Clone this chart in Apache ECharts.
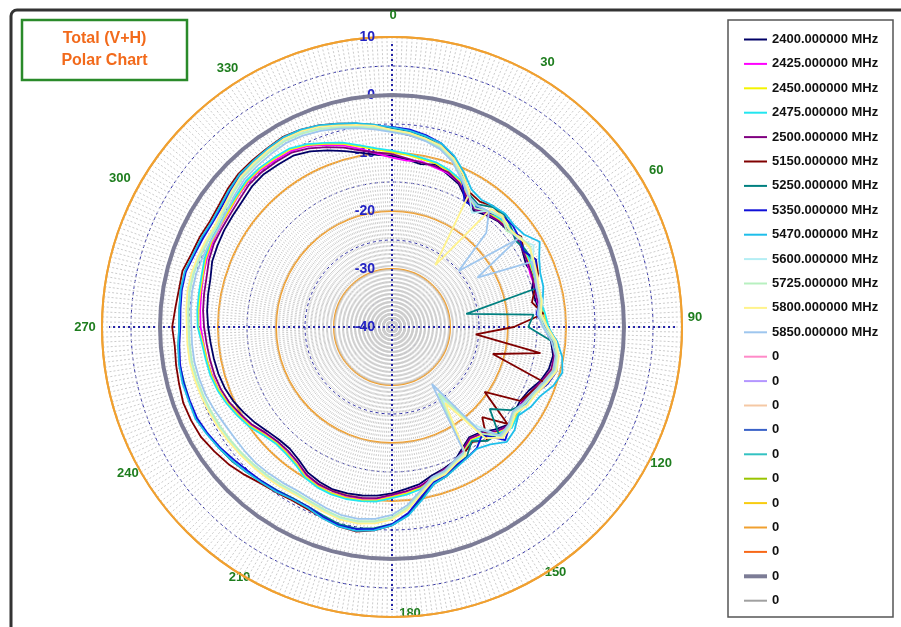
<!DOCTYPE html>
<html><head><meta charset="utf-8">
<script src="https://cdn.jsdelivr.net/npm/echarts@6/dist/echarts.min.js"></script>
<style>html,body{margin:0;padding:0;background:#fff}#c{width:901px;height:627px}</style>
</head><body><div id="c"></div>
<script>
// sampling angles (degrees, clockwise from top)
const angles = [0,5,10,15,20,25,30,35,40,45,50,55,60,65,70,75,80,85,90,95,100,105,110,115,120,125,130,135,140,145,150,155,160,165,170,175,
180,185,190,195,200,205,210,215,220,225,230,235,240,245,250,255,260,265,270,275,280,285,290,295,300,305,310,315,320,325,330,335,340,345,350,355];
const angleTicks = [0,30,60,90,120,150,180,210,240,270,300,330];
const radiusTicks = [-40,-30,-20,-10,0,10];

const s2400 = [-10.5,-11,-11.5,-11,-12,-12.8,-14.5,-15.5,-14.8,-14.2,
-14,-13.2,-14,-14.5,-14,-15,-14.8,-14.3,-13.8,-12.5,
-11.8,-12,-12.8,-14,-14.5,-14.3,-13.8,-15,-16.3,-16.8,
-15.8,-14.5,-14,-13.5,-12.5,-12,-11.3,-10.8,-10.5,-10.3,
-10.2,-10.5,-11,-12,-12.6,-12.5,-12,-11.2,-10.5,-9.8,
-9.3,-9,-8.8,-8.6,-8.3,-8,-7.8,-7.6,-7,-6.8,
-6.6,-6.5,-6.3,-5.8,-5.6,-5.8,-5.9,-6.6,-7.6,-8.6,
-9.5,-10.2];
const s2425 = [-10.8,-11.2,-11,-11.5,-11.8,-12.5,-14,-15,-14.6,-14,
-13.6,-13.8,-13.5,-14.2,-14.5,-14.3,-14.6,-14,-13.2,-12,
-11.5,-11.2,-12.6,-13.5,-14.2,-13.8,-13.3,-14.6,-16,-16.5,
-15.4,-14.2,-13.6,-13,-12.2,-11.5,-10.8,-10.2,-9.8,-9.6,
-9.5,-9.8,-10.4,-11.2,-11.8,-12,-11.4,-10.4,-9.6,-8.8,
-8.2,-7.9,-7.6,-7.4,-7,-6.8,-6.6,-6.3,-6,-5.8,
-5.7,-5.6,-5.2,-4.8,-4.7,-4.9,-5,-5.6,-6.6,-7.6,
-8.8,-10];
const s2450 = [-9.8,-10.2,-10.6,-10.8,-11.4,-12.2,-13.8,-14.8,-14.2,-13.8,
-13.5,-13.4,-13.6,-13.8,-14,-14.2,-14.2,-13.7,-13.2,-11.8,
-11.2,-11.3,-12.3,-13.2,-13.8,-13.7,-13.2,-14.2,-15.6,-16.2,
-15.2,-13.8,-13.5,-12.8,-11.8,-11.2,-10.7,-10,-9.7,-9.5,
-9.5,-9.7,-10.2,-11.2,-11.7,-11.8,-11.2,-10.2,-9.5,-8.8,
-8.2,-7.8,-7.6,-7.3,-6.6,-6.5,-6.4,-6.2,-5.8,-5.6,
-5.6,-5.5,-5.1,-4.6,-4.5,-4.6,-4.7,-5.4,-6.4,-7.3,
-8.4,-9.3];
const s2475 = [-9.6,-10,-10.4,-10.6,-11.2,-12,-13.5,-14.6,-14,-13.6,
-13.4,-13.2,-13.5,-13.6,-13.9,-14,-14,-13.5,-13,-11.6,
-11,-11.1,-12.1,-13,-13.6,-13.5,-13,-14,-15.4,-16,
-15,-13.6,-13.2,-12.6,-11.6,-11,-10.5,-9.8,-9.5,-9.3,
-9.3,-9.5,-10,-11,-11.5,-11.6,-11,-10,-9.3,-8.6,
-8,-7.6,-7.4,-7.1,-6.5,-6.3,-6.2,-6,-5.6,-5.4,
-5.4,-5.2,-4.9,-4.4,-4.3,-4.4,-4.5,-5.2,-6.2,-7.1,
-8.2,-9.1];
const s2500 = [-10.2,-10.8,-11.2,-11.3,-11.6,-12.6,-14.2,-15.2,-14.5,-14.1,
-13.8,-13.6,-13.9,-14.1,-14.3,-14.6,-14.5,-14.1,-13.6,-12.2,
-11.6,-11.6,-12.6,-13.6,-14.1,-14.1,-13.6,-14.6,-16,-16.6,
-15.6,-14.1,-13.9,-13.1,-12.1,-11.6,-11.1,-10.4,-10.1,-9.9,
-9.9,-10.1,-10.6,-11.6,-12.1,-12.1,-11.6,-10.6,-9.9,-9.1,
-8.6,-8.3,-8.1,-7.9,-7.6,-7.3,-7.1,-6.9,-6.4,-6.1,
-6.1,-6,-5.7,-5.2,-5.1,-5.2,-5.3,-6,-7,-8,
-9.1,-9.8];
const s5150 = [-6.2,-6.8,-7.2,-7.8,-9.5,-11.2,-13.2,-13.6,-12.8,-13.2,
-14,-12.8,-13.8,-12.6,-13.2,-14.5,-15.5,-13.8,-19,-25.5,
-14,-22,-12,-13.5,-14.5,-20.5,-14,-18,-14.5,-15.8,
-15,-14.4,-13.5,-12.8,-10.2,-7.5,-5.8,-4.8,-4.2,-4.4,
-5,-5.4,-5.5,-5.2,-4.8,-4,-3.2,-2.6,-2,-1.8,
-1.7,-2,-2.2,-2.4,-2.1,-2.5,-2.7,-2.6,-3.2,-3.4,
-3.7,-3.5,-3,-2.6,-2.5,-2.4,-2.2,-2.5,-3,-3.7,
-4.4,-5.2];
const s5250 = [-5.8,-6.2,-6.8,-7.6,-8.8,-10.8,-13.5,-14.2,-13,-12.6,
-13.2,-14,-13.4,-13.2,-13.8,-14.2,-27,-15.5,-16.5,-12.4,
-11.2,-10.8,-12,-12.8,-13.5,-15,-18,-14,-14.4,-16,
-14.2,-13.6,-12.6,-12,-10,-7.6,-6,-5.2,-4.7,-4.8,
-5.4,-5.8,-5.9,-5.6,-5.2,-4.6,-4,-3.6,-3.2,-2.8,
-2.8,-2.9,-2.8,-3,-3.3,-3.2,-3,-3.1,-3.6,-3.8,
-4.1,-3.8,-3.4,-2.9,-2.8,-2.6,-2.4,-2.6,-3.1,-3.8,
-4.4,-5];
const s5350 = [-5.5,-5.8,-6.4,-7.2,-9,-11.5,-15,-14.8,-14.2,-13,
-12.8,-13.2,-13.8,-12.6,-13.6,-14.4,-14,-15,-13.6,-12,
-11.2,-10.6,-11.4,-12.8,-13.2,-14,-13.5,-12.4,-15.8,-14.5,
-14,-13.8,-12.8,-12.3,-10.4,-7.8,-6,-5,-4.6,-4.6,
-5.2,-5.8,-5.8,-5.5,-5.2,-4.9,-4.4,-3.8,-3.3,-2.9,
-2.9,-2.8,-2.9,-3.2,-3.5,-3.4,-3.2,-3.2,-3.7,-4,
-4.2,-4.1,-3.6,-3.1,-3,-2.8,-2.6,-2.9,-3.4,-4.1,
-4.7,-5.2];
const s5470 = [-5.6,-6,-6.6,-7.2,-8.6,-10.6,-12.6,-13.2,-12.8,-12.4,
-12.6,-12.2,-10.6,-12,-12.8,-13,-13.6,-14.2,-13.2,-11.4,
-10.2,-9.6,-10.4,-11.8,-12.4,-13.4,-12.4,-12,-13.6,-14.4,
-14,-13.4,-12.6,-12,-9.8,-7.4,-5.8,-4.8,-4.3,-4.4,
-4.9,-5.6,-5.7,-5.3,-5,-4.6,-4.1,-3.6,-3.1,-2.6,
-2.7,-2.6,-2.7,-3,-3.3,-3.2,-3,-3,-3.5,-3.7,
-4,-3.8,-3.3,-2.8,-2.7,-2.5,-2.3,-2.5,-3,-3.7,
-4.3,-5];
const s5600 = [-6,-6.4,-7,-7.8,-9.2,-11.4,-13.4,-16,-13.8,-13.2,
-13.8,-13.4,-11.8,-13.2,-13.6,-14,-13.6,-14.4,-13.4,-11.8,
-11,-10.8,-11.8,-12.8,-13.2,-14.2,-13.4,-13.2,-18,-25,
-14.8,-14.2,-13.2,-12.8,-11,-8.6,-7,-6.2,-5.8,-5.8,
-6.2,-6.6,-6.8,-6.6,-6.4,-6.2,-6,-5.8,-5.6,-5.4,
-5.2,-5,-4.8,-4.8,-4.8,-4.6,-4.4,-4.4,-4.6,-4.8,
-5,-4.6,-4,-3.4,-3.2,-3,-2.8,-3,-3.5,-4.2,
-4.8,-5.4];
const s5725 = [-6.2,-6.6,-7.2,-8,-9.4,-11.6,-13.6,-15,-14,-13.2,
-14.2,-13,-12.4,-13.4,-13.8,-14.2,-14,-14.6,-13.8,-12,
-11.2,-11,-12,-13,-13.6,-14.4,-13.6,-13.4,-16,-26,
-15,-14.4,-13.4,-13,-11.2,-8.8,-7.2,-6.4,-6,-6,
-6.4,-6.8,-7,-6.8,-6.6,-6.4,-6.2,-6,-5.8,-5.6,
-5.4,-5.2,-5,-5,-5,-4.8,-4.6,-4.6,-4.8,-5,
-5.2,-4.8,-4.2,-3.6,-3.4,-3.2,-3,-3.2,-3.7,-4.4,
-5,-5.6];
const s5800 = [-6,-6.4,-7,-7.6,-9,-11,-13.2,-27,-13.4,-13,
-13.6,-13.2,-12.6,-13,-13.4,-13.8,-13.8,-14.2,-13.2,-11.6,
-10.8,-10.6,-11.6,-12.6,-13,-14,-13.2,-13,-15,-24,
-14.6,-14,-13,-12.6,-10.8,-8.4,-6.8,-6,-5.6,-5.6,
-6,-6.4,-6.6,-6.4,-6.2,-6,-5.8,-5.6,-5.4,-5.2,
-5,-4.8,-4.6,-4.6,-4.6,-4.4,-4.2,-4.2,-4.4,-4.6,
-4.8,-4.4,-3.8,-3.2,-3,-2.8,-2.6,-2.8,-3.3,-4,
-4.6,-5.2];
const s5850 = [-6.4,-6.8,-7.4,-8.2,-9.6,-11.8,-13.8,-14.4,-14,-17,
-25,-13.6,-23,-13.4,-13.8,-14.2,-14.2,-14.8,-14,-12.4,
-11.4,-11.2,-12.2,-13.2,-13.8,-14.6,-13.8,-13.6,-17,-28,
-15.2,-14.6,-13.6,-13.2,-11.4,-9.2,-7.6,-6.8,-6.4,-6.4,
-6.8,-7.2,-7.4,-7.2,-7,-6.8,-6.8,-6.8,-6.6,-6.2,
-5.8,-5.6,-5.4,-5.4,-5.4,-5.2,-5,-5,-5.2,-5.4,
-5.6,-5.2,-4.6,-4,-3.8,-3.6,-3.4,-3.6,-4,-4.6,
-5.2,-5.8];
const refLevel = 0; // the "0" reference circle (thick grey)

const seriesNames = ['2400.000000 MHz','2425.000000 MHz','2450.000000 MHz','2475.000000 MHz','2500.000000 MHz',
 '5150.000000 MHz','5250.000000 MHz','5350.000000 MHz','5470.000000 MHz','5600.000000 MHz','5725.000000 MHz','5800.000000 MHz','5850.000000 MHz'];
const seriesValues = [s2400,s2425,s2450,s2475,s2500,s5150,s5250,s5350,s5470,s5600,s5725,s5800,s5850];
const seriesColors = ['#000066','#ff00ff','#f4f400','#22e6f0','#800080','#800000','#008080','#1010d8','#1ebeea','#b4eef4','#b8f0c0','#fff38c','#9ec6ee'];
const zeroColors = ['#ff8ac8','#b496ff','#f5c8a4','#3a62c8','#33c2c2','#99c400','#f8cc10','#f0a030','#f86818','#7c7c96','#a0a0a0'];

// layout (not data): angle-label nudges in px, matching the reference placement
const angleLabelNudge = {0:[1,-5],30:[3,2],60:[0,0],90:[-2,-3],120:[5,-7],150:[11,-7],180:[18,-7],210:[0,-2],240:[0,3],270:[-2,7],300:[-8,8],330:[-12,8]};

const FONT = '"Liberation Sans", Arial, sans-serif';
const CX = 392, CY = 327, R = 290;

function toPairs(vals){
  const out = vals.map((v,i)=>[v, angles[i]]);
  out.push([vals[0], 360]);
  return out;
}

const series = [];
series.push({type:'line', coordinateSystem:'polar', silent:true, symbol:'none', name:'_v',
  data:[[8.8,0],[8.8,180]], lineStyle:{color:'#2424a8', width:2, type:[2,3]}, z:1});
series.push({type:'line', coordinateSystem:'polar', silent:true, symbol:'none', name:'_h',
  data:[[8.8,90],[8.8,270]], lineStyle:{color:'#2424a8', width:2, type:[2,3]}, z:1});

const legendData = [];
zeroColors.forEach((c,k)=>{
  const nm = '0#'+k;
  const isRef = k === 9;
  series.push({type:'line', coordinateSystem:'polar', name:nm, symbol:'none', silent:true,
    data: isRef ? angles.map(a=>[refLevel,a]).concat([[refLevel,360]]) : [],
    lineStyle:{color:c, width: isRef?4:1.5}, itemStyle:{color:c}, z:2});
});
seriesNames.forEach((n,i)=>{
  series.push({type:'line', coordinateSystem:'polar', name:n, symbol:'none', silent:true,
    data: toPairs(seriesValues[i]), lineStyle:{color:seriesColors[i], width:1.8}, itemStyle:{color:seriesColors[i]}, z:3});
  legendData.push({name:n});
});
zeroColors.forEach((c,k)=>{
  legendData.push(k===9 ? {name:'0#'+k, lineStyle:{width:4}} : {name:'0#'+k});
});

// angle tick labels placed around the rim from the polar geometry
const angleLabels = angleTicks.map(a=>{
  const t = a*Math.PI/180;
  const nd = angleLabelNudge[a] || [0,0];
  return {type:'text', silent:true, x: CX + 305*Math.sin(t) + nd[0], y: 320 - 300*Math.cos(t) + nd[1],
    style:{text:String(a), fill:'#1e7d1e', font:'bold 13px '+FONT, align:'center', verticalAlign:'middle'}};
});

const chart = echarts.init(document.getElementById('c'), null, {renderer:'canvas'});
chart.setOption({
  animation:false,
  backgroundColor:'#fff',
  textStyle:{fontFamily:FONT},
  polar:{center:[CX,CY], radius:R},
  angleAxis:{type:'value', min:0, max:360, interval:30, startAngle:90, clockwise:true,
    axisLine:{show:true, lineStyle:{color:'#f0a030', width:2}},
    axisTick:{show:false},
    axisLabel:{show:false},
    splitLine:{show:true, lineStyle:{color:'#cccccc', width:1, type:[2,2]}},
    minorTick:{show:false, splitNumber:30},
    minorSplitLine:{show:true, lineStyle:{color:'#cccccc', width:1, type:[2,2]}}
  },
  radiusAxis:{type:'value', min:-40, max:10, interval:10,
    axisLine:{show:false}, axisTick:{show:false},
    axisLabel:{show:true, color:'#2323c4', fontWeight:'bold', fontSize:14, fontFamily:FONT, margin:17,
      formatter:(v)=> radiusTicks.indexOf(v)>=0 ? String(v) : ''},
    splitLine:{show:true, lineStyle:{color:'#f0a030', width:2}},
    minorTick:{show:false, splitNumber:2},
    minorSplitLine:{show:true, lineStyle:{color:'#2a2aa0', width:1, type:[3,3]}}
  },
  legend:{orient:'vertical', left:742, top:33, padding:0, itemWidth:23, itemHeight:14, itemGap:11.4,
    selectedMode:false, data:legendData,
    itemStyle:{opacity:0},
    formatter:(n)=> n.split('#')[0],
    textStyle:{fontSize:13, fontWeight:'bold', color:'#111', fontFamily:FONT}},
  graphic:[
    {type:'rect', shape:{x:11, y:10, width:920, height:640, r:6}, style:{fill:'none', stroke:'#333', lineWidth:3}, silent:true},
    {type:'rect', shape:{x:728, y:20, width:165, height:597}, style:{fill:'none', stroke:'#555', lineWidth:1.5}, silent:true},
    {type:'rect', shape:{x:22, y:20, width:165, height:60}, style:{fill:'#fff', stroke:'#2a8a2a', lineWidth:2.5}, silent:true},
    {type:'text', x:104.5, y:50, style:{text:'Total (V+H)\nPolar Chart', fill:'#f26a1b', font:'bold 16px '+FONT, lineHeight:22, align:'center', verticalAlign:'middle'}, silent:true}
  ].concat(angleLabels),
  series: series
});
</script>
</body></html>
